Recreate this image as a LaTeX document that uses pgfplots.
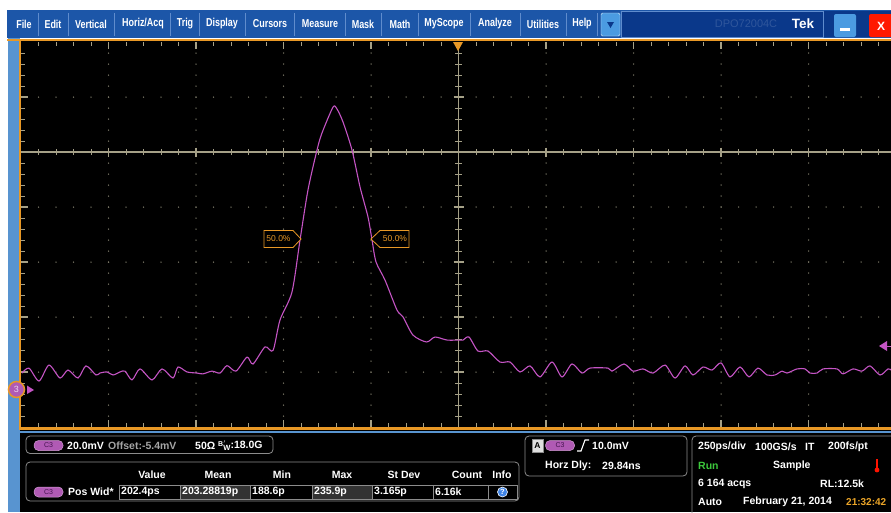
\documentclass[border=0pt]{standalone}
\usepackage{pgfplots}
\pgfplotsset{compat=1.18}
\usepackage{fontspec}
\setmainfont{Liberation Sans}
\newfontfamily\menufont[FakeStretch=0.78]{Liberation Sans}

\definecolor{menubg}{RGB}{28,86,168}
\definecolor{menunavy}{RGB}{10,56,138}
\definecolor{menusep}{RGB}{95,140,205}
\definecolor{sideblue}{RGB}{88,148,208}
\definecolor{tekorange}{RGB}{232,152,38}
\definecolor{grat}{RGB}{165,160,135}
\definecolor{gratdot}{RGB}{125,122,105}
\definecolor{trace}{RGB}{196,84,196}
\definecolor{pill}{RGB}{176,90,180}
\definecolor{pilltext}{RGB}{70,20,80}
\definecolor{panelline}{RGB}{140,140,140}
\definecolor{btnblue}{RGB}{75,155,225}
\definecolor{rungreen}{RGB}{60,200,60}
\definecolor{timeorange}{RGB}{235,165,40}
\definecolor{offgray}{RGB}{165,165,165}

\tikzset{
  pnl/.style={white, font=\fontsize{10.5}{12}\selectfont\bfseries, inner sep=0pt},
  c3pill/.style={fill=pill, draw=pill!60!white, line width=0.5pt, rounded corners=4.5pt},
}
\newcommand{\pillat}[2]{%
  \draw[c3pill] (#1-14.5,#2-5) rectangle (#1+14.5,#2+5);
  \node[pilltext, font=\fontsize{7}{8}\selectfont, inner sep=0pt] at (#1,#2) {C3};}

\begin{document}
\begin{tikzpicture}
\begin{scope}[x=1pt,y=-1pt]
  \useasboundingbox (0,0) rectangle (891,512);
  \clip (0,0) rectangle (891,512);
  % frame and menu bar
  \fill[white] (0,0) rectangle (891,512);
  \fill[menubg] (7,10) rectangle (891,38);
  \fill[menunavy] (621,11) rectangle (891,37);
  \draw[menusep, line width=0.6pt] (621,11) rectangle (823,37);
  \foreach \sx in {38,68,114,170,199,245,294,345,381,418,470,520,566,597}
    \draw[menusep, line width=0.6pt] (\sx,13) -- (\sx,36);
  \begin{scope}[every node/.style={white, font=\menufont\fontsize{11.5}{13}\selectfont\bfseries, inner sep=0pt}]
    \node at (24,24) {File};
    \node at (53,24) {Edit};
    \node at (91,24) {Vertical};
    \node at (143,24) {Horiz/Acq};
    \node at (185,24) {Trig};
    \node at (222,24) {Display};
    \node at (270,24) {Cursors};
    \node at (320,24) {Measure};
    \node at (363,24) {Mask};
    \node at (400,24) {Math};
    \node at (444,24) {MyScope};
    \node at (495,24) {Analyze};
    \node at (543,24) {Utilities};
    \node at (582,24) {Help};
  \end{scope}
  \fill[btnblue, draw=white!80!btnblue, rounded corners=1.5pt] (601,13) rectangle (620,36);
  \fill[menunavy] (607,22) -- (614,22) -- (610.5,28) -- cycle;
  \node[menunavy!85!white, font=\fontsize{11}{12}\selectfont, inner sep=0pt] at (746,24) {DPO72004C};
  \node[white, font=\fontsize{13.5}{14}\selectfont\bfseries, inner sep=0pt] at (803,24) {Tek};
  \fill[btnblue, rounded corners=2pt] (834,14) rectangle (856,37);
  \fill[white] (840,28) rectangle (850,30.5);
  \fill[red!80!orange, rounded corners=2pt] (869,14) rectangle (895,37);
  \node[white, font=\fontsize{12}{13}\selectfont\bfseries, inner sep=0pt] at (881,26) {X};
  % side strip, screen, lower panel
  \fill[sideblue] (8,38) rectangle (20,512);
  \fill[black] (20,41) rectangle (891,512);
  \fill[tekorange] (7,38.5) rectangle (891,41);
  \fill[tekorange] (19,41) rectangle (21,429);
  \fill[tekorange] (19,427) rectangle (891,429.5);
  \fill[sideblue] (19,430.5) rectangle (891,432.5);
  \fill[black] (21,433) rectangle (891,512);
  % graticule dots
  \foreach \gy in {97,207,262,317,372}
    \foreach \gx in {38.5,56,...,880}
      \fill[gratdot] (\gx,\gy) circle (0.75pt);
  \foreach \gx in {108.5,196,283.5,371,546,633.5,721,808.5}
    \foreach \gy in {53,64,...,420}
      \fill[gratdot] (\gx,\gy) circle (0.75pt);
  % centre lines with ticks
  \draw[grat, line width=1.1pt] (21,152) -- (891,152);
  \draw[grat, line width=1.1pt] (458.5,42) -- (458.5,427);
  \foreach \gx in {38.5,56,...,880} {
    \draw[grat, line width=0.9pt] (\gx,149) -- (\gx,155);
    \draw[grat, line width=0.9pt] (\gx,42) -- (\gx,46);
    \draw[grat, line width=0.9pt] (\gx,427) -- (\gx,423);
  }
  \foreach \gy in {53,64,...,420} {
    \draw[grat, line width=0.9pt] (455,\gy) -- (462,\gy);
    \draw[grat, line width=0.9pt] (21,\gy) -- (25,\gy);
  }
  \foreach \gx in {108.5,196,283.5,371,546,633.5,721,808.5} {
    \draw[grat, line width=1.1pt] (\gx,147.5) -- (\gx,156.5);
    \draw[grat, line width=1.1pt] (\gx,42) -- (\gx,49);
    \draw[grat, line width=1.1pt] (\gx,427) -- (\gx,420);
  }
  \foreach \gy in {97,207,262,317,372} {
    \draw[grat, line width=1.1pt] (453.5,\gy) -- (463.5,\gy);
    \draw[grat, line width=1.1pt] (21,\gy) -- (28,\gy);
  }
  \draw[grat, line width=1.1pt] (21,152) -- (28,152);
\end{scope}

\begin{axis}[
    at={(21pt,-427pt)}, anchor=south west,
    width=870pt, height=385pt, scale only axis,
    hide axis,
    xmin=-1248.6, xmax=1237.1,
    ymin=-13.82, ymax=126.18,
  ]
  % C3 pulse: time in ps (250 ps/div), amplitude in mV (20 mV/div)
  \addplot[trace, line width=1.1pt, smooth, tension=0.45] coordinates {
    (-1245.7,5.8) (-1225.7,7.6) (-1197.1,2.9) (-1168.6,8.7) (-1137.1,4.0)
    (-1114.3,6.9) (-1085.7,4.0) (-1062.9,8.4) (-1034.3,5.1) (-1022.9,5.8)
    (-1002.9,6.2) (-985.7,5.1) (-965.7,6.2) (-951.4,6.5) (-931.4,3.3)
    (-908.6,7.3) (-874.3,3.3) (-845.7,7.3) (-814.3,4.0) (-800.0,8.0)
    (-774.3,6.2) (-745.7,5.8) (-728.6,5.5) (-702.9,6.5) (-680.0,5.8)
    (-660.0,8.5) (-634.3,6.5) (-602.9,11.6) (-585.7,9.1) (-551.4,15.3)
    (-528.6,14.0) (-508.6,25.1) (-474.3,35.3) (-451.4,54.2) (-428.6,72.4)
    (-402.9,86.9) (-388.6,93.1) (-357.1,102.5) (-345.7,101.8) (-328.6,97.1)
    (-302.9,86.9) (-280.0,73.5) (-257.1,62.5) (-245.7,54.2) (-234.3,46.2)
    (-208.6,39.6) (-174.3,28.7) (-157.1,26.2) (-128.6,19.6) (-90.0,17.1)
    (-65.7,18.9) (-31.4,17.8) (5.7,17.8) (14.3,17.8) (31.4,18.9)
    (57.1,13.8) (85.7,13.8) (120.0,9.8) (148.6,9.8) (177.1,6.2)
    (205.7,8.4) (234.3,4.4) (268.6,9.8) (297.1,4.4) (325.7,9.1)
    (354.3,5.8) (377.1,7.6) (428.6,7.6) (440.0,6.5) (474.3,9.1)
    (500.0,6.5) (528.6,7.3) (557.1,5.8) (591.4,8.7) (620.0,4.0)
    (648.6,8.4) (671.4,5.1) (700.0,8.0) (725.7,6.9) (751.4,9.5)
    (777.1,4.4) (805.7,8.0) (831.4,4.4) (857.1,7.6) (882.9,5.1)
    (905.7,5.1) (925.7,6.5) (940.0,5.8) (968.6,7.3) (991.4,7.3)
    (1005.7,5.8) (1025.7,5.8) (1042.9,7.3) (1082.9,7.3) (1100.0,5.5)
    (1128.6,7.3) (1154.3,6.5) (1177.1,8.4) (1205.7,5.1) (1228.6,7.3)
    (1237.1,6.9)
  };
\end{axis}

\begin{scope}[x=1pt,y=-1pt]
  \clip (0,0) rectangle (891,512);
  % trigger position and level markers
  \fill[tekorange] (453,42) -- (463,42) -- (458,51) -- cycle;
  \fill[trace] (879,346) -- (887,341) -- (887,351) -- cycle;
  \draw[trace, line width=1pt] (886,346) -- (891,346);
  % ground marker for channel 3
  \filldraw[fill=pill, draw=tekorange, line width=1.5pt] (16.5,389.5) circle (8pt);
  \node[white!75!pill, font=\fontsize{9}{9}\selectfont, inner sep=0pt] at (16.5,389.5) {3};
  \fill[trace] (27,385.5) -- (27,394) -- (34,390) -- cycle;
  % 50% cursors
  \filldraw[fill=black, draw=tekorange, line width=0.8pt]
    (264,230.5) -- (293,230.5) -- (301,239) -- (293,247.5) -- (264,247.5) -- cycle;
  \node[tekorange, font=\fontsize{8.5}{9}\selectfont, inner sep=0pt] at (278.5,239) {50.0\%};
  \filldraw[fill=black, draw=tekorange, line width=0.8pt]
    (371,239) -- (380,230.5) -- (409,230.5) -- (409,247.5) -- (380,247.5) -- cycle;
  \node[tekorange, font=\fontsize{8.5}{9}\selectfont, inner sep=0pt] at (395,239) {50.0\%};

  % channel readout
  \draw[panelline, rounded corners=4pt, line width=0.8pt] (26,436) rectangle (273,453.5);
  \pillat{48.5}{445.5}
  \node[pnl, anchor=west] at (67,445.5) {20.0mV};
  \node[pnl, anchor=west, offgray] at (108,445.5) {Offset:-5.4mV};
  \node[pnl, anchor=west] at (195,445.5) {50Ω};
  \node[pnl, anchor=west] at (218,445.5) {\raisebox{2pt}{\fontsize{7}{7}\selectfont B$'$}\kern-2.5pt\raisebox{-2pt}{\fontsize{7.5}{7}\selectfont W}:18.0G};

  % measurement table
  \draw[panelline, rounded corners=4pt, line width=0.8pt] (26,462) rectangle (519,501);
  \node[pnl] at (152,475) {Value};
  \node[pnl] at (218,475) {Mean};
  \node[pnl] at (282,475) {Min};
  \node[pnl] at (342,475) {Max};
  \node[pnl] at (404,475) {St Dev};
  \node[pnl] at (467,475) {Count};
  \node[pnl] at (502,475) {Info};
  \pillat{48.5}{492}
  \node[pnl, anchor=west] at (68,492) {Pos Wid*};
  \draw[panelline, line width=0.6pt, fill=black] (119,485) rectangle (180,499);
  \draw[panelline, line width=0.6pt, fill=black!80!white] (180,485) rectangle (250,499);
  \draw[panelline, line width=0.6pt, fill=black] (250,485) rectangle (312,499);
  \draw[panelline, line width=0.6pt, fill=black!80!white] (312,485) rectangle (372,499);
  \draw[panelline, line width=0.6pt, fill=black] (372,485) rectangle (433,499);
  \draw[panelline, line width=0.6pt, fill=black] (433,485) rectangle (488,499);
  \draw[panelline, line width=0.6pt, fill=black] (488,485) rectangle (517,499);
  \node[pnl, anchor=west] at (121,492) {202.4ps};
  \node[pnl, anchor=west] at (182,492) {203.28819p};
  \node[pnl, anchor=west] at (252,492) {188.6p};
  \node[pnl, anchor=west] at (314,492) {235.9p};
  \node[pnl, anchor=west] at (374,492) {3.165p};
  \node[pnl, anchor=west] at (435,492) {6.16k};
  \filldraw[fill=btnblue!85!blue, draw=white, line width=0.6pt] (502.5,492) circle (5pt);
  \node[white, font=\fontsize{7.5}{8}\selectfont\bfseries, inner sep=0pt] at (502.5,492) {?};

  % trigger readout
  \draw[panelline, rounded corners=4pt, line width=0.8pt] (525,436) rectangle (687,476);
  \filldraw[fill=black!12!white, draw=panelline, line width=0.5pt] (532,439) rectangle (543,452);
  \node[black, font=\fontsize{8.5}{9}\selectfont\bfseries, inner sep=0pt] at (537.5,445.5) {A};
  \pillat{560}{445.5}
  \draw[white, line width=1.1pt] (577,451) -- (581,451) -- (585,440) -- (589,440);
  \node[pnl, anchor=west] at (592,445.5) {10.0mV};
  \node[pnl, anchor=west] at (545,466) {Horz Dly:};
  \node[pnl, anchor=west] at (602,466) {29.84ns};

  % acquisition readout
  \draw[panelline, rounded corners=4pt, line width=0.8pt] (692,515) -- (692,436) -- (897,436);
  \node[pnl, anchor=west] at (698,447) {250ps/div};
  \node[pnl, anchor=west] at (755,447) {100GS/s};
  \node[pnl, anchor=west] at (805,447) {IT};
  \node[pnl, anchor=west] at (828,447) {200fs/pt};
  \node[pnl, anchor=west, rungreen] at (698,466) {Run};
  \node[pnl, anchor=west] at (773,466) {Sample};
  \draw[red!85!orange, line width=2pt] (877,459) -- (877,469);
  \fill[red!85!orange] (877,470) circle (2.4pt);
  \node[pnl, anchor=west] at (698,484) {6 164 acqs};
  \node[pnl, anchor=west] at (820,484) {RL:12.5k};
  \node[pnl, anchor=west] at (698,502) {Auto};
  \node[pnl, anchor=west] at (743,502) {February 21, 2014};
  \node[pnl, anchor=west, timeorange, font=\fontsize{10}{12}\selectfont\bfseries] at (846,502) {21:32:42};
\end{scope}
\end{tikzpicture}
\end{document}
